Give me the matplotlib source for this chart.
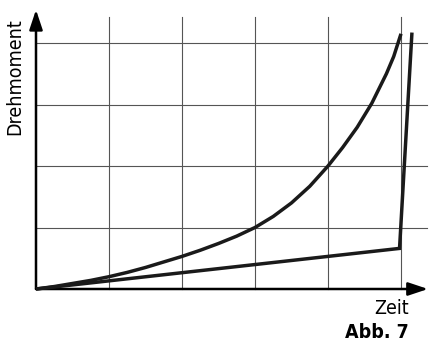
import matplotlib.pyplot as plt
from matplotlib import font_manager

# values (x in grid columns, y in grid rows)
curve_x = [0, 0.25, 0.5, 0.75, 1, 1.25, 1.5, 1.75, 2, 2.25, 2.5, 2.75, 3,
           3.25, 3.5, 3.75, 4, 4.2, 4.4, 4.6, 4.8, 4.9, 5.0]
curve_y = [0, 0.04, 0.09, 0.14, 0.2, 0.27, 0.35, 0.44, 0.53, 0.63, 0.74, 0.86, 1.0,
           1.18, 1.4, 1.67, 2.0, 2.3, 2.63, 3.02, 3.5, 3.78, 4.15]

line_x = [0, 4.98, 5.15]
line_y = [0, 0.66, 4.17]

grid_x = [1, 2, 3, 4, 5]
grid_y = [1, 2, 3, 4]

condensed = any(f.name == "DejaVu Sans" and f.stretch == "condensed"
                for f in font_manager.fontManager.ttflist)
plt.rcParams["font.family"] = ["DejaVu Sans"]
stretch = "condensed" if condensed else "normal"

fig = plt.figure(figsize=(4.3, 3.45), dpi=100)
ax = fig.add_axes([0, 0, 1, 1])
ax.set_xlim(-36 / 73, 394 / 73)
ax.set_ylim(-56 / 61.5, 289 / 61.5)
ax.axis("off")

for gx in grid_x:
    ax.plot([gx, gx], [0, 4.43], color="#555555", lw=0.8, zorder=1)
for gy in grid_y:
    ax.plot([0, 5.35], [gy, gy], color="#555555", lw=0.8, zorder=1)

arrow = dict(arrowstyle="-|>,head_length=0.6,head_width=0.2", lw=1.8,
             color="black", shrinkA=0, shrinkB=0, mutation_scale=20)
ax.annotate("", xy=(0, 4.54), xytext=(0, 0), arrowprops=arrow, zorder=3)
ax.annotate("", xy=(5.37, 0), xytext=(0, 0), arrowprops=arrow, zorder=3)

ax.plot(curve_x, curve_y, color="#1a1a1a", lw=2.5, solid_capstyle="butt",
        solid_joinstyle="round", zorder=4)
ax.plot(line_x, line_y, color="#1a1a1a", lw=2.5, solid_joinstyle="miter",
        solid_capstyle="butt", zorder=4)

ax.text(15, 345 - 77, "Drehmoment", transform=None, rotation=90, fontsize=14,
        fontstretch=stretch, ha="center", va="center")
ax.text(392, 345 - 309, "Zeit", transform=None, fontsize=14,
        fontstretch=stretch, ha="center", va="center")
ax.text(377, 345 - 332, "Abb. 7", transform=None, fontsize=14,
        fontstretch=stretch, fontweight="bold", ha="center", va="center")

fig.savefig("out.png", dpi=100)
